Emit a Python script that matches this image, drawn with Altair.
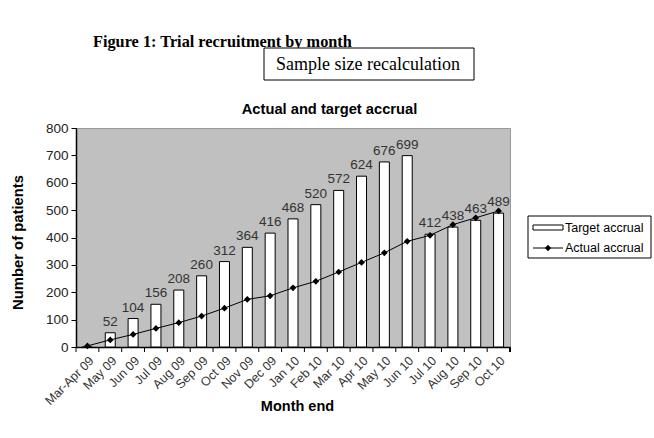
import altair as alt
import pandas as pd

months = ["Mar-Apr 09", "May 09", "Jun 09", "Jul 09", "Aug 09", "Sep 09", "Oct 09",
          "Nov 09", "Dec 09", "Jan 10", "Feb 10", "Mar 10", "Apr 10", "May 10",
          "Jun 10", "Jul 10", "Aug 10", "Sep 10", "Oct 10"]
target = [0, 52, 104, 156, 208, 260, 312, 364, 416, 468, 520, 572, 624, 676, 699,
          412, 438, 463, 489]
actual = [4, 26, 46, 68, 89, 113, 142, 174, 187, 216, 240, 274, 309, 344, 386,
          408, 447, 472, 497]
y_ticks = [0, 100, 200, 300, 400, 500, 600, 700, 800]

df = pd.DataFrame({"month": months, "target": target, "actual": actual})

W, H = 434, 219
SANS = "Liberation Sans"
SERIF = "Liberation Serif"

x_axis = alt.Axis(title="Month end", labelAngle=-45, labelAlign="right",
                  labelBaseline="top", labelPadding=7, ticks=False,
                  labelOverlap=False,
                  labelFont=SANS, labelFontSize=12.5, labelColor="#333",
                  domainColor="black", domainWidth=1.5,
                  titleFont=SANS, titleFontSize=14.5, titleFontWeight="bold",
                  titleX=221, titleY=59, titleBaseline="middle",
                  titleColor="black")
x_scale = alt.Scale(paddingInner=0, paddingOuter=0)
y_scale = alt.Scale(domain=[0, 800], nice=False)
y_axis = alt.Axis(title="Number of patients", values=y_ticks, grid=False,
                  labelOverlap=False, tickCount=9,
                  tickColor="black", tickSize=5, domainColor="black", domainWidth=1.5,
                  labelFont=SANS, labelFontSize=13.5, labelColor="#222", labelPadding=3,
                  titleFont=SANS, titleFontSize=14.8, titleFontWeight="bold",
                  titleX=-58, titleY=114, titleAngle=270, titleBaseline="middle",
                  titleColor="black")


def X(**kw):
    return alt.X("month:N", sort=months, scale=x_scale, axis=x_axis, title="Month end", **kw)


def Y(field):
    return alt.Y(field, scale=y_scale, axis=y_axis, title="Number of patients")


base = alt.Chart(df)

bars = base.mark_bar(width=10, fill="white", stroke="black", strokeWidth=1).encode(
    x=X(), y=Y("target:Q"),
)

labels = base.transform_filter("datum.target > 0").mark_text(
    font=SANS, fontSize=13.5, color="#333", baseline="bottom", dy=-4
).encode(x=X(), y=Y("target:Q"), text="target:Q")

line = base.mark_line(color="black", strokeWidth=1).encode(x=X(), y=Y("actual:Q"))
points = base.mark_point(shape="diamond", filled=True, color="black", size=45, opacity=1).encode(
    x=X(), y=Y("actual:Q"))

ticks = base.mark_rule(color="black", strokeWidth=1).encode(
    x=X(bandPosition=0),
    y=alt.value(H), y2=alt.value(H + 5),
)
end_tick = base.mark_rule(color="black", strokeWidth=1).encode(
    x=alt.value(W), y=alt.value(H), y2=alt.value(H + 5)
)

one = alt.Chart(pd.DataFrame({"a": [0]}))
ox, oy = 76, 128

title = one.mark_text(font=SANS, fontSize=14.7, fontWeight="bold", color="black",
                      align="center", baseline="middle").encode(
    x=alt.value(329.5 - ox), y=alt.value(110 - oy), text=alt.value("Actual and target accrual"))
fig = one.mark_text(font=SERIF, fontSize=16.3, fontWeight="bold", color="black",
                    align="left", baseline="middle").encode(
    x=alt.value(93 - ox), y=alt.value(42 - oy),
    text=alt.value("Figure 1: Trial recruitment by month"))
box = one.mark_rect(fill="white", stroke="black", strokeWidth=1).encode(
    x=alt.value(264 - ox), x2=alt.value(474 - ox), y=alt.value(48 - oy), y2=alt.value(80 - oy))
box_text = one.mark_text(font=SERIF, fontSize=18, color="black", align="center",
                         baseline="middle").encode(
    x=alt.value(368 - ox), y=alt.value(65 - oy), text=alt.value("Sample size recalculation"))

leg_box = one.mark_rect(fill="white", stroke="black", strokeWidth=1).encode(
    x=alt.value(528 - ox), x2=alt.value(651 - ox), y=alt.value(216 - oy), y2=alt.value(258 - oy))
leg_sym1 = one.mark_rect(fill="white", stroke="black", strokeWidth=1).encode(
    x=alt.value(533 - ox), x2=alt.value(563 - ox), y=alt.value(225 - oy), y2=alt.value(230 - oy))
leg_line = one.mark_rule(color="black", strokeWidth=1).encode(
    x=alt.value(533 - ox), x2=alt.value(563 - ox), y=alt.value(248 - oy))
leg_pt = one.mark_point(shape="diamond", filled=True, color="black", size=40, opacity=1).encode(
    x=alt.value(548 - ox), y=alt.value(248 - oy))
leg_t1 = one.mark_text(font=SANS, fontSize=12.5, color="black", align="left",
                       baseline="middle").encode(
    x=alt.value(565 - ox), y=alt.value(227.5 - oy), text=alt.value("Target accrual"))
leg_t2 = one.mark_text(font=SANS, fontSize=12.5, color="black", align="left",
                       baseline="middle").encode(
    x=alt.value(565 - ox), y=alt.value(248 - oy), text=alt.value("Actual accrual"))

chart = alt.layer(
    bars, labels, line, points, ticks, end_tick,
    title, fig, box, box_text, leg_box, leg_sym1, leg_line, leg_pt, leg_t1, leg_t2
).properties(
    width=W, height=H,
    autosize=alt.AutoSizeParams(type="none"),
    padding={"left": ox, "top": oy, "right": 654 - ox - W, "bottom": 438 - oy - H},
    background="white",
).configure_view(
    fill="#c0c0c0", stroke="#9a9a9a", strokeWidth=1
)

chart.save("out.html", embed_options={"renderer": "svg", "actions": False})
